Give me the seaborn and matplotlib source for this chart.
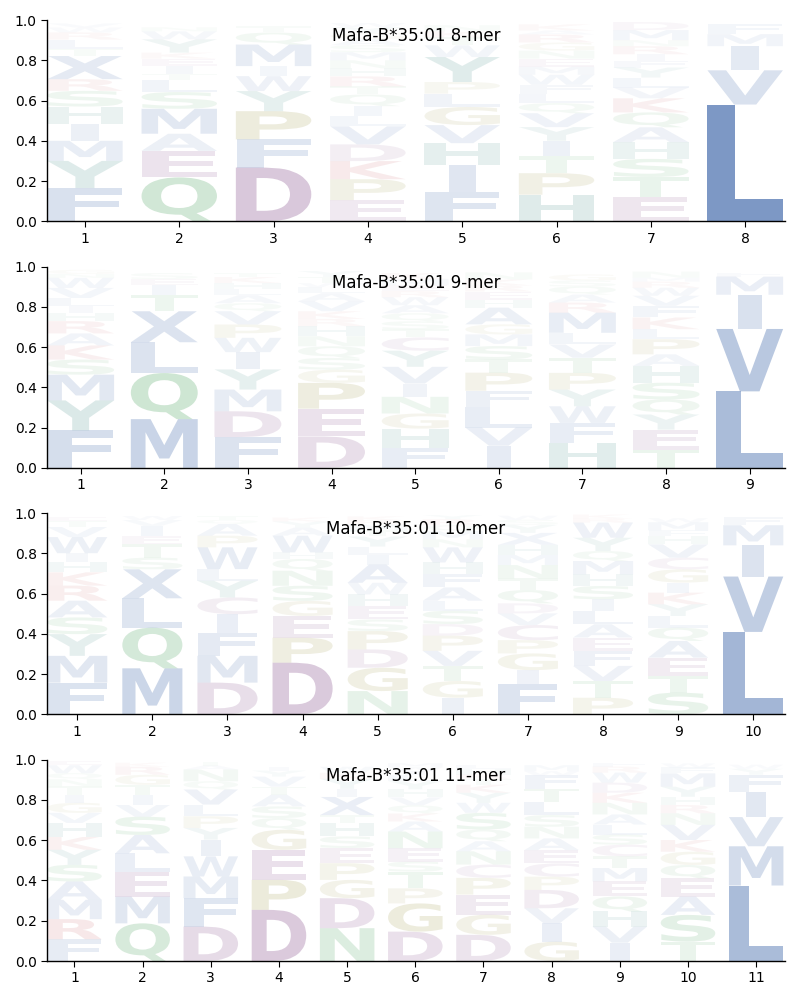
import numpy as np
import matplotlib
matplotlib.use("Agg")
import matplotlib.pyplot as plt
import seaborn as sns
from matplotlib.textpath import TextPath
from matplotlib.patches import PathPatch
from matplotlib.font_manager import FontProperties
from matplotlib.transforms import Affine2D

# ---------------- data (letters bottom -> top, heights) ----------------
titles = ["Mafa-B*35:01 8-mer", "Mafa-B*35:01 9-mer",
          "Mafa-B*35:01 10-mer", "Mafa-B*35:01 11-mer"]

mer8_letters = ["FYMIHSRXTLRWV", "QEAMSLTIEKYWN", "DFPYWIMQT", "EPKDVLIQTRHNMSAGYW",
                "FIHVGLPYWTKN", "HPTIYVQLFWMENGRAK", "ETSHAQKVLYFIRNMD", "LVIMF"]
mer8_heights = [
    [.165, .135, .10, .085, .085, .078, .058, .115, .036, .046, .035, .025, .02],
    [.218, .132, .085, .124, .083, .061, .03, .04, .035, .03, .066, .04, .02],
    [.267, .14, .14, .10, .074, .05, .107, .06, .03],
    [.105, .104, .09, .083, .09, .05, .05, .058, .04, .05, .04, .04, .04, .035, .03, .03, .03, .02],
    [.144, .137, .107, .09, .09, .066, .058, .124, .058, .04, .03, .03],
    [.132, .107, .083, .078, .068, .069, .05, .046, .045, .05, .04, .04, .04, .04, .04, .02, .03],
    [.12, .10, .09, .083, .074, .074, .07, .053, .05, .05, .033, .033, .04, .03, .05, .04],
    [.58, .17, .12, .06, .05],
]

mer9_letters = ["FYMSKARHILVWNG", "MQLXTIES", "FDMYIWPVQALHKT", "DEPGSQNHRKVALWTY",
                "FHGNIVYCTSQAWREMK", "IVLFPTSMGAHERKN", "HFWYPTVLMRAQSG", "TEYQSHAPLKFVWRMN",
                "LVIMF"]
mer9_heights = [
    [.186, .149, .128, .075, .07, .06, .061, .041, .033, .041, .05, .05, .02, .02],
    [.242, .229, .153, .154, .08, .05, .03, .03],
    [.153, .128, .108, .10, .086, .071, .066, .066, .04, .04, .03, .03, .03, .02],
    [.156, .138, .128, .066, .058, .058, .05, .05, .036, .038, .05, .04, .03, .02, .03, .03],
    [.10, .095, .075, .083, .066, .083, .08, .066, .04, .04, .04, .04, .04, .03, .03, .03, .03],
    [.11, .09, .10, .083, .09, .066, .066, .058, .05, .083, .04, .04, .03, .03, .035],
    [.123, .10, .083, .083, .083, .075, .066, .058, .10, .05, .04, .04, .03, .03],
    [.09, .10, .075, .075, .083, .083, .058, .075, .05, .058, .058, .05, .04, .03, .02, .03],
    [.38, .31, .17, .09, .02],
]

mer10_letters = ["FMYSARKHIWVTE", "MQLXSTEIVW", "DMFICYLWPAQT", "DPEGSNQHWAYK",
                 "NGDPSEHWAILYTMRK", "IGTVPDSLAFHWNMQRY", "FIGPCVDQTNMHXYSW",
                 "PTVFEALISHMQYWRK", "STEAQLYKIGCVHFMW", "LVIMF"]
mer10_heights = [
    [.158, .133, .108, .083, .083, .075, .066, .05, .045, .08, .05, .03, .02],
    [.229, .202, .146, .144, .058, .066, .041, .05, .03, .02],
    [.158, .133, .116, .091, .083, .083, .058, .108, .058, .058, .02, .02],
    [.257, .124, .108, .075, .075, .075, .058, .033, .083, .04, .03, .02],
    [.116, .116, .091, .091, .058, .066, .058, .058, .09, .05, .04, .05, .03, .03, .02, .02],
    [.083, .083, .075, .075, .075, .058, .066, .05, .066, .066, .058, .075, .04, .04, .03, .03, .02],
    [.15, .07, .083, .066, .075, .058, .05, .066, .058, .066, .05, .05, .06, .04, .025, .02],
    [.083, .083, .075, .075, .066, .066, .066, .058, .066, .058, .066, .05, .066, .075, .02, .02],
    [.108, .083, .091, .083, .066, .058, .058, .058, .05, .066, .058, .066, .04, .03, .04, .02],
    [.41, .275, .155, .10, .04],
]

mer11_letters = ["FRMASYKHVGITNQWE", "QMELASVITGRK", "DFMWIYPLVQNAT", "DPEGQSATVYI",
                 "NDGPESHTXIYKW", "DGPTSENAKQVHYLIWM", "DGEPCNAQSWYKTRHL",
                 "GIVDPCEANSLTFWM", "IVHQEMTCSLANKDWRF", "TSAEQGKVNRHYMFW", "LMVIFYW"]
mer11_heights = [
    [.108, .10, .096, .091, .083, .075, .063, .07, .05, .05, .041, .041, .035, .03, .04, .02],
    [.187, .133, .124, .091, .091, .091, .058, .05, .05, .05, .04, .02],
    [.171, .141, .108, .10, .083, .058, .058, .058, .075, .041, .058, .02, .02],
    [.254, .149, .149, .10, .058, .058, .058, .04, .05, .03, .02],
    [.163, .149, .091, .083, .075, .058, .066, .04, .09, .04, .05, .03, .03],
    [.146, .14, .075, .083, .05, .066, .083, .05, .04, .04, .04, .04, .04, .03, .02, .02, .02],
    [.13, .10, .10, .083, .066, .066, .05, .058, .083, .05, .05, .04, .03, .02, .03, .02],
    [.096, .091, .075, .091, .066, .066, .066, .058, .058, .058, .066, .066, .066, .02, .03],
    [.091, .08, .075, .075, .075, .066, .058, .058, .05, .05, .05, .058, .05, .05, .05, .03, .02],
    [.096, .133, .091, .091, .066, .066, .058, .075, .058, .041, .041, .05, .066, .03, .02],
    [.375, .195, .145, .125, .085, .03, .02],
]

panel_letters = [mer8_letters, mer9_letters, mer10_letters, mer11_letters]
panel_heights = [mer8_heights, mer9_heights, mer10_heights, mer11_heights]

# ---------------- styles ----------------
group_colors = {}
for c in "AFILMVWX":
    group_colors[c] = "#4c72b0"
for c in "DEC":
    group_colors[c] = "#8e5a93"
for c in "KR":
    group_colors[c] = "#c44e52"
for c in "NQST":
    group_colors[c] = "#55a868"
for c in "GP":
    group_colors[c] = "#9a9440"
for c in "HY":
    group_colors[c] = "#3e8a84"

sns.set_theme(style="ticks")
plt.rcParams["font.family"] = ["DejaVu Sans"]

font = FontProperties(family="DejaVu Sans", weight="bold")
msc_ext = TextPath((0, 0), "E", size=1, prop=font).get_extents()
LETTER_W = 0.8


def draw_glyph(ax, c, x, y, h, color, alpha):
    path = TextPath((0, 0), c, size=1, prop=font)
    ext = path.get_extents()
    hs = min(LETTER_W / ext.width, LETTER_W / msc_ext.width)
    cw = hs * ext.width
    shift = (LETTER_W - cw) / 2.0
    vs = h / ext.height
    tr = (Affine2D().translate(-ext.xmin, -ext.ymin)
          .scale(hs, vs)
          .translate(x - LETTER_W / 2 + shift, y))
    patch = PathPatch(tr.transform_path(path), facecolor=color,
                      edgecolor="none", alpha=alpha)
    ax.add_patch(patch)


fig, axes = plt.subplots(4, 1, figsize=(8, 10), dpi=100)
fig.subplots_adjust(left=0.059, right=0.981, top=0.98, bottom=0.039, hspace=0.225)

for ax, title, lets, hts in zip(axes, titles, panel_letters, panel_heights):
    n = len(lets)
    for i, (col_l, col_h) in enumerate(zip(lets, hts)):
        pos = i + 1
        y = 0.0
        for c, h in zip(col_l, col_h):
            a = float(np.clip(1.25 * h, 0.03, 0.75))
            draw_glyph(ax, c, pos, y, h, group_colors[c], a)
            y += h
    ax.set_xlim(0.6, n + 0.42)
    ax.set_ylim(0, 1)
    ax.set_xticks(range(1, n + 1))
    ax.set_xticklabels([str(k) for k in range(1, n + 1)])
    ax.set_yticks([0, 0.2, 0.4, 0.6, 0.8, 1.0])
    ax.set_yticklabels(["0.0", "0.2", "0.4", "0.6", "0.8", "1.0"])
    ax.tick_params(labelsize=10, length=4, width=0.8, colors="black")
    for s in ["left", "bottom"]:
        ax.spines[s].set_color("black")
        ax.spines[s].set_linewidth(1.0)
    sns.despine(ax=ax)
    ax.text(0.5, 0.92, title, transform=ax.transAxes, ha="center",
            va="center", fontsize=12, color="black")

fig.savefig("out.png", dpi=100)
